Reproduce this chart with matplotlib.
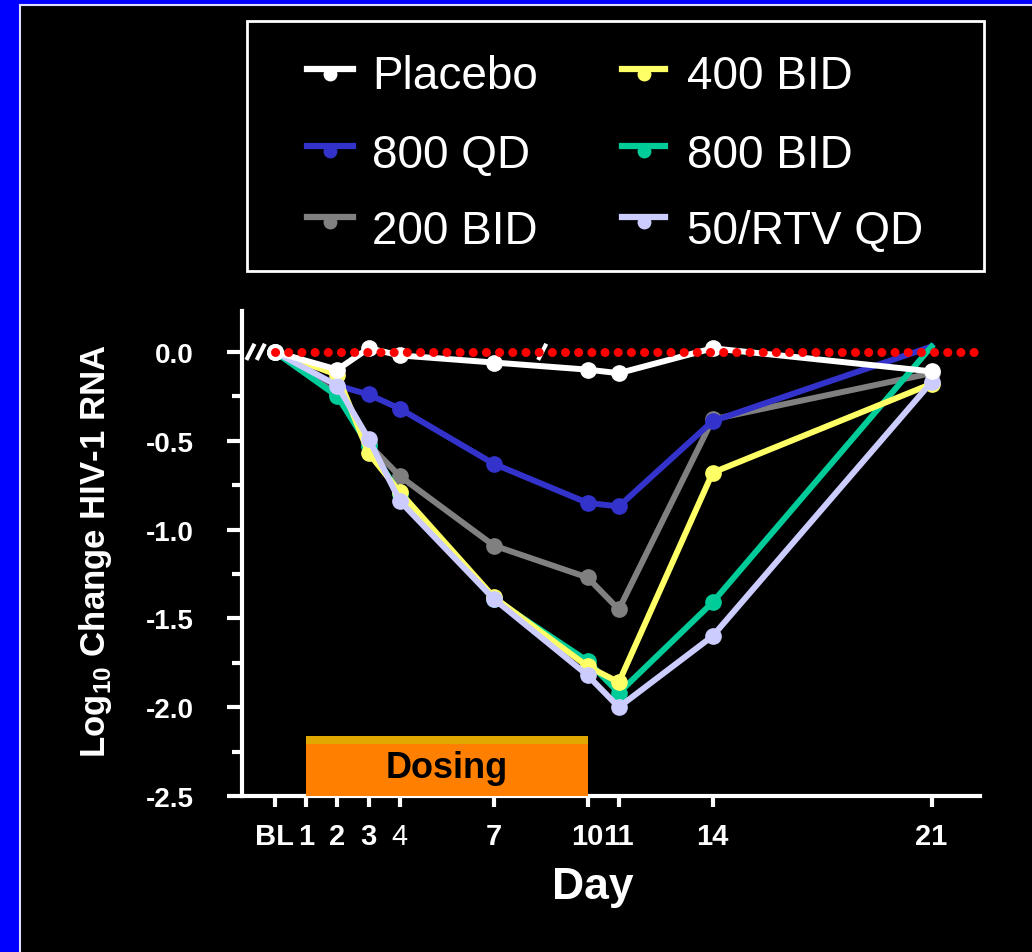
import numpy as np
import matplotlib
matplotlib.use("Agg")
import matplotlib.pyplot as plt
from matplotlib.patches import Rectangle
from matplotlib.lines import Line2D

W, H = 1032, 953

days = [0, 2, 3, 4, 7, 10, 11, 14, 21]
tick_days = [0, 1, 2, 3, 4, 7, 10, 11, 14, 21]
tick_labels = ["BL", "1", "2", "3", "4", "7", "10", "11", "14", "21"]

placebo = [0, -0.10, 0.02, -0.02, -0.06, -0.10, -0.12, 0.02, -0.11]
qd800 = [0, -0.19, -0.24, -0.32, -0.63, -0.85, -0.87, -0.39, 0.03]
bid200 = [0, -0.24, -0.52, -0.70, -1.09, -1.27, -1.45, -0.38, -0.12]
bid400 = [0, -0.13, -0.57, -0.79, -1.38, -1.77, -1.86, -0.68, -0.18]
bid800 = [0, -0.25, -0.53, -0.80, -1.39, -1.74, -1.92, -1.41, 0.03]
rtv50 = [0, -0.19, -0.49, -0.84, -1.39, -1.82, -2.00, -1.60, -0.17]

names = ["Placebo", "800 QD", "200 BID", "400 BID", "800 BID", "50/RTV QD"]
series = [placebo, qd800, bid200, bid400, bid800, rtv50]
colors = ["#FFFFFF", "#3333CC", "#808080", "#FFFF66", "#00CC99", "#CCCCFF"]
zorders = [8, 5, 4, 6, 5.5, 7]
# blue and green end at day 21 without a visible marker
last_marker = [True, False, True, True, False, True]

dosing_start, dosing_end = 1, 10

plt.rcParams['font.family'] = ['Liberation Sans', 'DejaVu Sans']
plt.rcParams['mathtext.fontset'] = 'custom'
plt.rcParams['mathtext.rm'] = 'Liberation Sans:bold'
plt.rcParams['mathtext.bf'] = 'Liberation Sans:bold'


def fx(x):
    return x / W


def fy(y):
    return 1 - y / H


fig = plt.figure(figsize=(W / 100, H / 100), dpi=100, facecolor="black")

# blue frame on left and top
fig.add_artist(Rectangle((0, 0), fx(19), 1, transform=fig.transFigure,
                         facecolor="#0000FF", edgecolor="none", zorder=0))
fig.add_artist(Rectangle((0, fy(5)), 1, 5 / H, transform=fig.transFigure,
                         facecolor="#0000FF", edgecolor="none", zorder=0))
fig.add_artist(Line2D([fx(20), fx(20)], [0, fy(6)], transform=fig.transFigure,
                      color="#DDDDFF", lw=1.5))
fig.add_artist(Line2D([fx(20), 1], [fy(6), fy(6)], transform=fig.transFigure,
                      color="#DDDDFF", lw=1.5))

ax = fig.add_axes([fx(242), fy(797), fx(980) - fx(242), fy(312) - fy(797)])
ax.set_facecolor("black")
ax.set_xlim(-1.05, 22.55)
ax.set_ylim(-2.5, 0.23)

for s in ["top", "right"]:
    ax.spines[s].set_visible(False)
for s in ["left", "bottom"]:
    ax.spines[s].set_color("white")
    ax.spines[s].set_linewidth(3)

for vals, c, z, lm in zip(series, colors, zorders, last_marker):
    every = list(range(len(days))) if lm else list(range(len(days) - 1))
    ax.plot(days, vals, color=c, lw=4.3, marker="o", ms=11, mec=c, mfc=c,
            markevery=every, zorder=z, clip_on=False)

# zero reference line
ax.plot([0, 22.75], [0, 0], color="#FF0000", lw=6.5, linestyle=(0, (0.01, 1.45)),
        dash_capstyle="round", zorder=10, clip_on=False)

# axis break marks
for bx in [-0.78, -0.45, 8.55]:
    ax.plot([bx - 0.1, bx + 0.1], [-0.035, 0.035], color="white", lw=3,
            zorder=9, clip_on=False)

# dosing bar
ax.add_patch(Rectangle((dosing_start, -2.5), dosing_end - dosing_start, 0.34,
                       facecolor="#FF8000", edgecolor="none", zorder=3, clip_on=False))
ax.add_patch(Rectangle((dosing_start, -2.21), dosing_end - dosing_start, 0.05,
                       facecolor="#E0A800", edgecolor="none", zorder=3, clip_on=False))
ax.text((dosing_start + dosing_end) / 2, -2.34, "Dosing", color="black",
        fontsize=26, fontweight="bold", ha="center", va="center", zorder=4)

ax.set_xticks(tick_days)
ax.set_xticklabels(tick_labels, fontsize=21, fontweight="bold", color="white")
ax.xaxis.get_ticklabels()[4].set_fontweight("normal")
ax.set_yticks(np.arange(-2.5, 0.01, 0.5))
ax.set_yticklabels(["%.1f" % v for v in np.arange(-2.5, 0.01, 0.5)],
                   fontsize=20, fontweight="bold", color="white")
ax.set_yticks(np.arange(-2.25, 0.0, 0.5), minor=True)
ax.tick_params(axis="x", direction="out", length=8, width=3, color="white", pad=11)
ax.tick_params(axis="y", which="major", direction="out", length=11, width=3,
               color="white", pad=24)
ax.tick_params(axis="y", which="minor", direction="out", length=7, width=3,
               color="white")

fig.text(fx(96), fy(551), r"Log$_{10}$ Change HIV-1 RNA", rotation=90,
         ha="center", va="center", fontsize=25, fontweight="bold", color="white")
fig.text(fx(593), fy(888), "Day", ha="center", va="center", fontsize=32,
         fontweight="bold", color="white")

# legend box
fig.add_artist(Rectangle((fx(247), fy(272)), fx(984) - fx(247), fy(22) - fy(272),
                         transform=fig.transFigure, facecolor="black",
                         edgecolor="white", lw=2))
col_handle = [(307, 353), (622, 665)]
col_text = [372, 687]
row_text = [77, 156, 232]
row_line = [70, 147, 218]
for i, (name, c) in enumerate(zip(names, colors)):
    col, row = i // 3, i % 3
    x0, x1 = col_handle[col]
    ly = row_line[row]
    fig.add_artist(Line2D([fx((x0 + x1) / 2)], [fy(ly + 5)], transform=fig.transFigure,
                          marker="o", ms=9, color=c, mec=c, lw=0))
    fig.add_artist(Line2D([fx(x0), fx(x1)], [fy(ly), fy(ly)], transform=fig.transFigure,
                          color=c, lw=4.5))
    fig.text(fx(col_text[col]), fy(row_text[row]), name, fontsize=33, color="white",
             ha="left", va="center")

fig.savefig("out.png", dpi=100, facecolor="black")
